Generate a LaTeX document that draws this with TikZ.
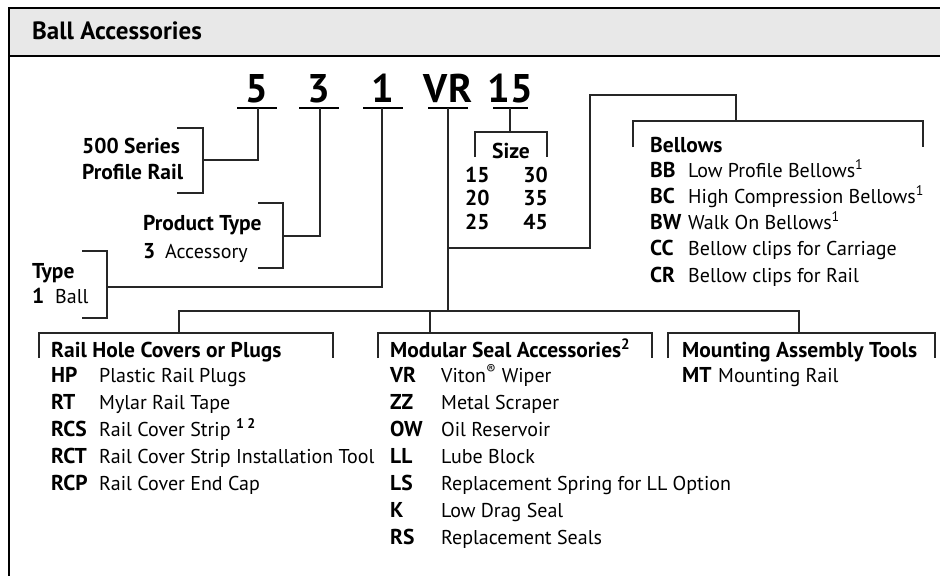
\documentclass[tikz,border=0pt]{standalone}
\usepackage{fontspec}
\setmainfont{PT Sans}
\begin{document}
\begin{tikzpicture}[x=1pt,y=-1pt,
  ln/.style={draw=black!85, line width=1.7pt},
  uline/.style={draw=black, line width=2.8pt},
  codetxt/.style={font=\fontsize{40}{40}\selectfont\bfseries, anchor=base, inner sep=0},
  txt/.style={font=\fontsize{20}{22}\selectfont, anchor=base west, inner sep=0},
  btxt/.style={font=\fontsize{21.5}{23}\selectfont\bfseries, anchor=base west, inner sep=0},
  brtxt/.style={font=\fontsize{21.5}{23}\selectfont\bfseries, anchor=base east, inner sep=0}]
\useasboundingbox (0,0) rectangle (940,576);
% frame and header
\fill[black!9] (9,8) rectangle (940,56);
\draw[line width=2.6pt] (940,8) -- (9,8) -- (9,576);
\draw[line width=2pt] (9,56) -- (940,56);
\node[font=\fontsize{25}{28}\selectfont\bfseries, anchor=base west, inner sep=0] (title) at (32,39) {Ball Accessories};

% code
\node[codetxt] (c5) at (257,102) {5};
\node[codetxt] (c3) at (319,102) {3};
\node[codetxt] (c1) at (383,102) {1};
\node[codetxt] (cvr) at (448,102) {VR};
\node[codetxt] (c15) at (510.5,102) {15};
\draw[uline] (237,108) -- (277,108);
\draw[uline] (299,108) -- (339,108);
\draw[uline] (363,108) -- (403,108);
\draw[uline] (428,108) -- (468,108);
\draw[uline] (493,108) -- (528,108);

% 500 series
\coordinate (j5) at (258,108);
\draw[ln] (j5) -- (258,160) -- (203,160);
\draw[ln] (177,128) -- (203,128) -- (203,193) -- (177,193);
\node[btxt] (ser1) at (82,153) {500 Series};
\node[btxt] (ser2) at (82,179) {Profile Rail};

% product type
\coordinate (j3) at (320,108);
\draw[ln] (j3) -- (320,236) -- (283,236);
\draw[ln] (258,203) -- (283,203) -- (283,268) -- (258,268);
\node[btxt] (pt) at (143,230) {Product Type};
\node[btxt] (pt3) at (143,258) {3};
\node[txt] (ptacc) at (165,258) {Accessory};

% type
\coordinate (j1) at (382,108);
\draw[ln] (j1) -- (382,287) -- (107,287);
\draw[ln] (82,251) -- (107,251) -- (107,318) -- (82,318);
\node[btxt] (ty) at (32,278) {Type};
\node[btxt] (ty1) at (32,303) {1};
\node[txt] (tyball) at (55,303) {Ball};

% size
\coordinate (j15) at (510,108);
\draw[ln] (j15) -- (510,132);
\draw[ln] (475,157) -- (475,132) -- (547,132) -- (547,157);
\node[font=\fontsize{21.5}{23}\selectfont\bfseries, anchor=base, inner sep=0] (size) at (511,158) {Size};
\node[btxt] (s15) at (465,182) {15};
\node[btxt] (s20) at (465,205) {20};
\node[btxt] (s25) at (465,229) {25};
\node[brtxt] (s30) at (548,182) {30};
\node[brtxt] (s35) at (548,205) {35};
\node[brtxt] (s45) at (548,229) {45};

% VR trunk and bellows
\coordinate (jvr) at (448,108);
\draw[ln] (jvr) -- (448,311);
\draw[ln] (448,248) -- (590,248) -- (590,95) -- (736,95) -- (736,121);
\draw[ln] (633,147) -- (633,121) -- (923,121) -- (923,147);
\node[btxt] (bel) at (650,152) {Bellows};
\node[btxt] (bb) at (650,177) {BB};
\node[txt] (bbd) at (688,177) {Low Profile Bellows\textsuperscript{1}};
\node[btxt] (bc) at (650,203) {BC};
\node[txt] (bcd) at (688,203) {High Compression Bellows\textsuperscript{1}};
\node[btxt] (bw) at (650,229) {BW};
\node[txt] (bwd) at (688,229) {Walk On Bellows\textsuperscript{1}};
\node[btxt] (cc) at (650,255) {CC};
\node[txt] (ccd) at (688,255) {Bellow clips for Carriage};
\node[btxt] (cr) at (650,282) {CR};
\node[txt] (crd) at (688,282) {Bellow clips for Rail};

% bottom distribution
\draw[ln] (179,333) -- (179,311) -- (799,311) -- (799,333);
\draw[ln] (430,311) -- (430,333);
\draw[ln] (39,358) -- (39,333) -- (333,333) -- (333,358);
\draw[ln] (378,358) -- (378,333) -- (652,333) -- (652,358);
\draw[ln] (668,358) -- (668,333) -- (935,333) -- (935,358);

% rail hole covers
\node[btxt] (rh) at (51,357) {Rail Hole Covers or Plugs};
\node[btxt] (hp) at (51,382) {HP};  \node[txt] (hpd) at (99,382) {Plastic Rail Plugs};
\node[btxt] (rt) at (51,409) {RT};  \node[txt] (rtd) at (99,409) {Mylar Rail Tape};
\node[btxt] (rcs) at (51,436) {RCS}; \node[txt] (rcsd) at (99,436) {Rail Cover Strip \textbf{\textsuperscript{1 2}}};
\node[btxt] (rct) at (51,463) {RCT}; \node[txt] (rctd) at (99,463) {Rail Cover Strip Installation Tool};
\node[btxt] (rcp) at (51,490) {RCP}; \node[txt] (rcpd) at (99,490) {Rail Cover End Cap};

% modular seal
\node[btxt] (ms) at (390,357) {Modular Seal Accessories\textsuperscript{2}};
\node[btxt] (vr) at (390,382) {VR}; \node[txt] (vrd) at (441,382) {Viton\textsuperscript{®} Wiper};
\node[btxt] (zz) at (390,409) {ZZ}; \node[txt] (zzd) at (441,409) {Metal Scraper};
\node[btxt] (ow) at (390,436) {OW}; \node[txt] (owd) at (441,436) {Oil Reservoir};
\node[btxt] (ll) at (390,463) {LL}; \node[txt] (lld) at (441,463) {Lube Block};
\node[btxt] (ls) at (390,490) {LS}; \node[txt] (lsd) at (441,490) {Replacement Spring for LL Option};
\node[btxt] (kk) at (390,517) {K};  \node[txt] (kd) at (441,517) {Low Drag Seal};
\node[btxt] (rs) at (390,544) {RS}; \node[txt] (rsd) at (441,544) {Replacement Seals};

% mounting
\node[btxt] (mat) at (682,357) {Mounting Assembly Tools};
\node[btxt] (mt) at (682,382) {MT}; \node[txt] (mtd) at (718,382) {Mounting Rail};
\end{tikzpicture}
\end{document}
